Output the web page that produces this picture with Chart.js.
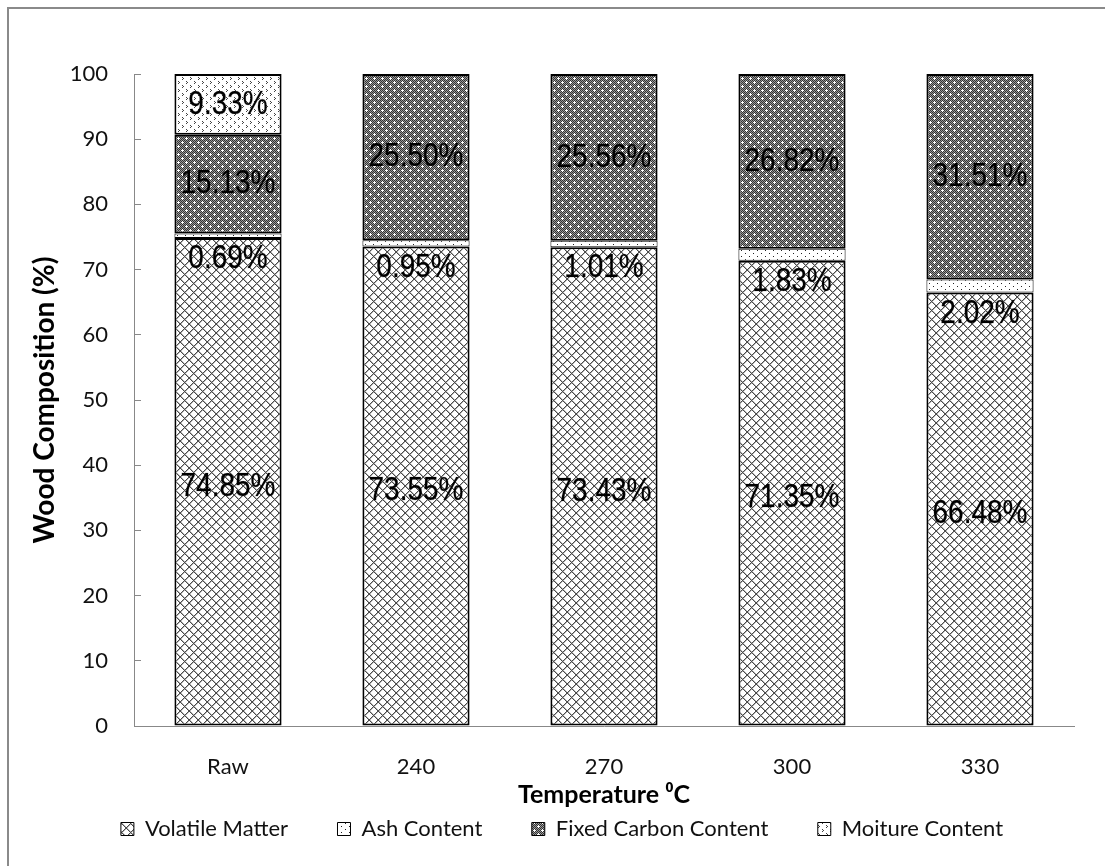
<!DOCTYPE html>
<html>
<head>
<meta charset="utf-8">
<script src="https://cdn.jsdelivr.net/npm/chart.js@4.4.1/dist/chart.umd.min.js"></script>
<style>
  html, body { margin: 0; padding: 0; background: #fff; }
  #wrap { width: 1105px; height: 866px; }
</style>
</head>
<body>
<div id="wrap"><canvas id="c" width="1105" height="866"></canvas></div>
<script>
// Proximate composition of wood at each torrefaction temperature (%)
const categories = ['Raw', '240', '270', '300', '330'];
const volatileMatter = [74.85, 73.55, 73.43, 71.35, 66.48];
const ashContent = [0.69, 0.95, 1.01, 1.83, 2.02];
const fixedCarbon = [15.13, 25.50, 25.56, 26.82, 31.51];
const moisture = [9.33, 0, 0, 0, 0];
const seriesNames = ['Volatile Matter', 'Ash Content', 'Fixed Carbon Content', 'Moiture Content'];
const yMin = 0, yMax = 100, yStep = 10;

const canvas = document.getElementById('c');
const ctx = canvas.getContext('2d');

// Small repeating fill tiles (hatch / dot patterns)
function tile(w, h, paint) {
  const t = document.createElement('canvas');
  t.width = w; t.height = h;
  const g = t.getContext('2d');
  paint(g, w, h);
  return ctx.createPattern(t, 'repeat');
}
function px(g, color, pts) {
  g.fillStyle = color;
  pts.forEach(([x, y]) => g.fillRect(x, y, 1, 1));
}

const crossHatch = tile(9, 9, (g, w, h) => {
  g.fillStyle = '#fff'; g.fillRect(0, 0, w, h);
  const soft = [], hard = [];
  for (let i = 0; i < 9; i++) {
    hard.push([i, i]); hard.push([8 - i, i]);
    soft.push([(i + 1) % 9, i]); soft.push([(9 - i) % 9, i]);
  }
  px(g, '#b4b4b4', soft);
  px(g, '#4a4a4a', hard);
});
const sparseDots = tile(8, 6, (g, w, h) => {
  g.fillStyle = '#fff'; g.fillRect(0, 0, w, h);
  px(g, '#222', [[1, 1], [5, 4]]);
});
const darkGrid = tile(8, 8, (g, w, h) => {
  const pts = [];
  g.fillStyle = '#999'; g.fillRect(0, 0, w, h);
  for (let y = 0; y < h; y++) for (let x = 0; x < w; x++) if ((x + y) % 2 === 0) pts.push([x, y]);
  px(g, '#333', pts);
  px(g, '#fff', [[2, 1], [1, 2], [2, 2], [3, 2], [2, 3], [6, 5], [5, 6], [6, 6], [7, 6], [6, 7]]);
});
const chevrons = tile(8, 8, (g, w, h) => {
  g.fillStyle = '#fff'; g.fillRect(0, 0, w, h);
  px(g, '#444', [[2, 1], [3, 2], [2, 3], [6, 5], [7, 6], [6, 7]]);
});

// Thin grey frame along the top and left edges
const framePlugin = {
  id: 'frame',
  beforeDraw(chart) {
    const c = chart.ctx;
    c.save();
    c.fillStyle = '#fff';
    c.fillRect(0, 0, chart.width, chart.height);
    c.fillStyle = '#8a8a8a';
    c.fillRect(7, 7, chart.width - 7, 2);
    c.fillRect(7, 7, 2, chart.height - 7);
    c.restore();
  }
};

// Percentage labels inside each stacked segment (slightly tall lettering)
const segmentLabels = {
  id: 'segmentLabels',
  afterDatasetsDraw(chart) {
    const c = chart.ctx;
    chart.data.datasets.forEach((ds, di) => {
      const meta = chart.getDatasetMeta(di);
      meta.data.forEach((bar, i) => {
        const v = ds.data[i];
        if (!v) return;
        let y = (bar.y + bar.base) / 2;
        if (di === 0) y += 5;
        if (di === 1) y = bar.base + 21;
        c.save();
        c.font = '28px "Liberation Sans", Arial, sans-serif';
        c.fillStyle = '#000';
        c.strokeStyle = 'rgba(0,0,0,0.35)';
        c.lineWidth = 0.6;
        c.textAlign = 'center';
        c.textBaseline = 'middle';
        c.translate(bar.x, y);
        c.scale(1, 1.2);
        c.fillText(v.toFixed(2) + '%', 0, 0);
        c.strokeText(v.toFixed(2) + '%', 0, 0);
        c.restore();
      });
    });
  }
};

const fills = [crossHatch, sparseDots, darkGrid, chevrons];
const values = [volatileMatter, ashContent, fixedCarbon, moisture];
const uiFont = 'Lato, "Open Sans", sans-serif';

new Chart(ctx, {
  type: 'bar',
  data: {
    labels: categories,
    datasets: seriesNames.map((name, k) => ({
      label: name,
      data: values[k],
      backgroundColor: fills[k],
      borderColor: '#000',
      borderWidth: k === 1 ? 1 : 2,
      borderSkipped: false,
      barPercentage: 0.57,
      categoryPercentage: 1
    }))
  },
  options: {
    responsive: false,
    animation: false,
    devicePixelRatio: 1,
    layout: { padding: { left: 50, right: 31, top: 74, bottom: 16 } },
    scales: {
      x: {
        stacked: true,
        grid: { display: false, drawTicks: false },
        border: { display: true, color: '#888', width: 1 },
        ticks: { color: '#111', font: { family: uiFont, size: 22 }, padding: 28 },
        title: {
          display: true, text: 'Temperature ⁰C', color: '#000',
          font: { family: uiFont, size: 25, weight: 'bold' },
          padding: { top: 0, bottom: -2 }
        },
        afterFit(s) { s.height = 82; }
      },
      y: {
        stacked: true,
        min: yMin, max: yMax,
        ticks: { stepSize: yStep, color: '#111', font: { family: uiFont, size: 22 }, padding: 33 },
        grid: { drawOnChartArea: false, drawTicks: true, tickLength: -7, color: '#888' },
        border: { display: true, color: '#888', width: 1 },
        title: {
          display: true, text: 'Wood Composition (%)', color: '#000',
          font: { family: uiFont, size: 28, weight: 'bold' },
          padding: { top: -22, bottom: 0 }
        },
        afterFit(s) { s.width = 84; }
      }
    },
    plugins: {
      legend: {
        position: 'bottom',
        labels: {
          color: '#111',
          font: { family: uiFont, size: 22 },
          boxWidth: 13, boxHeight: 13, padding: 10,
          generateLabels(chart) {
            const items = Chart.defaults.plugins.legend.labels.generateLabels(chart);
            items.forEach((it, i) => {
              it.lineWidth = 1;
              if (i < items.length - 1) it.text = it.text + '       ';
            });
            return items;
          }
        }
      },
      tooltip: { enabled: false }
    }
  },
  plugins: [framePlugin, segmentLabels]
});
</script>
</body>
</html>
